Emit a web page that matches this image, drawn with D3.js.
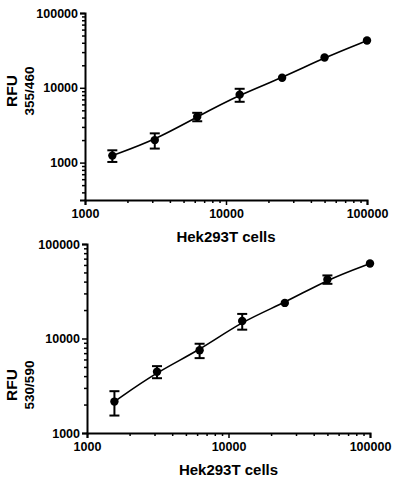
<!DOCTYPE html>
<html>
<head>
<meta charset="utf-8">
<script src="https://cdn.jsdelivr.net/npm/d3@7"></script>
<style>
  body { margin: 0; background: #fff; }
  svg text { font-family: "Liberation Sans", Arial, sans-serif; font-weight: bold; fill: #000; }
</style>
</head>
<body>
<svg id="chart" width="397" height="502"></svg>
<script>
// -------- data --------
var cells = [1562.5, 3125, 6250, 12500, 25000, 50000, 100000];

// top panel: RFU 355/460
var rfu355 = [1240, 2000, 4100, 8100, 13600, 25400, 42800];
var sd355 = [220, 460, 530, 1600, 0, 0, 0];

// bottom panel: RFU 530/590
var rfu530 = [2150, 4450, 7500, 15300, 23800, 42200, 62200];
var sd530 = [620, 650, 1300, 2900, 0, 4300, 0];

var xTicks = [1000, 10000, 100000];
var yTicks = [1000, 10000, 100000];

var svg = d3.select('#chart');

// minor ticks for a log axis between lo and hi
function minorTicks(lo, hi) {
  var out = [];
  for (var dec = 100; dec < hi; dec *= 10) {
    for (var k = 2; k < 10; k++) {
      var v = dec * k;
      if (v > lo && v < hi) out.push(v);
    }
  }
  return out;
}

//-------- draw one panel --------
function drawPanel(p) {
  var x = d3.scaleLog().domain([1000, 100000]).range([p.left, p.right]);
  var y = d3.scaleLog().domain(p.yDomain).range([p.bottom, p.top]);
  var g = svg.append('g');

  // x axis
  g.append('g').attr('transform', 'translate(0,' + p.bottom + ')')
    .call(d3.axisBottom(x).tickValues(xTicks).tickFormat(d3.format('d')).tickSize(5).tickPadding(4));
  g.append('g').attr('transform', 'translate(0,' + p.bottom + ')')
    .call(d3.axisBottom(x).tickValues(minorTicks(1000, 100000)).tickFormat('').tickSize(3))
    .select('.domain').remove();

  // y axis
  g.append('g').attr('transform', 'translate(' + p.left + ',0)')
    .call(d3.axisLeft(y).tickValues(yTicks.filter(function(d) { return d >= p.yDomain[0]; }))
      .tickFormat(d3.format('d')).tickSize(5).tickPadding(2));
  g.append('g').attr('transform', 'translate(' + p.left + ',0)')
    .call(d3.axisLeft(y).tickValues(minorTicks(p.yDomain[0], p.yDomain[1])).tickFormat('').tickSize(3))
    .select('.domain').remove();

  g.selectAll('.domain').attr('stroke', '#000').attr('stroke-width', 2);
  g.selectAll('.tick line').attr('stroke', '#000').attr('stroke-width', 1.5);
  g.selectAll('.tick text').style('font-size', '12.5px');

  // axis titles
  g.append('text').attr('x', (p.left + p.right) / 2).attr('y', p.bottom + 42)
    .attr('text-anchor', 'middle').style('font-size', '15px').text('Hek293T cells');
  g.append('text').attr('transform', 'translate(17,' + p.labelY + ') rotate(-90)')
    .attr('text-anchor', 'middle').style('font-size', '15.5px').text('RFU');
  g.append('text').attr('transform', 'translate(34,' + p.labelY + ') rotate(-90)')
    .attr('text-anchor', 'middle').style('font-size', '13.5px').text(p.subLabel);

  var pts = cells.map(function(c, i) { return { x: c, y: p.values[i], sd: p.sd[i] }; });

  // fitted curve (smoothed through the means)
  var line = d3.line().x(function(d) { return x(d.x); }).y(function(d) { return y(d.y); })
    .curve(d3.curveBasis);
  g.append('path').datum(pts).attr('d', line).attr('fill', 'none')
    .attr('stroke', '#000').attr('stroke-width', 1.6);

  // error bars
  var eb = g.selectAll('.err').data(pts.filter(function(d) { return d.sd > 0; })).enter()
    .append('g').attr('class', 'err').attr('stroke', '#000').attr('stroke-width', 2);
  eb.append('line').attr('x1', function(d) { return x(d.x); }).attr('x2', function(d) { return x(d.x); })
    .attr('y1', function(d) { return y(d.y + d.sd); }).attr('y2', function(d) { return y(d.y - d.sd); });
  eb.append('line').attr('x1', function(d) { return x(d.x) - 5; }).attr('x2', function(d) { return x(d.x) + 5; })
    .attr('y1', function(d) { return y(d.y + d.sd); }).attr('y2', function(d) { return y(d.y + d.sd); });
  eb.append('line').attr('x1', function(d) { return x(d.x) - 5; }).attr('x2', function(d) { return x(d.x) + 5; })
    .attr('y1', function(d) { return y(d.y - d.sd); }).attr('y2', function(d) { return y(d.y - d.sd); });

  // points
  g.selectAll('.pt').data(pts).enter().append('circle').attr('class', 'pt')
    .attr('cx', function(d) { return x(d.x); }).attr('cy', function(d) { return y(d.y); })
    .attr('r', 4.2).attr('fill', '#000');
}

drawPanel({ left: 85, right: 367, top: 13, bottom: 200, yDomain: [Math.pow(10, 2.5), 100000],
  values: rfu355, sd: sd355, labelY: 91, subLabel: '355/460' });
drawPanel({ left: 87, right: 370, top: 244, bottom: 433, yDomain: [1000, 100000],
  values: rfu530, sd: sd530, labelY: 385, subLabel: '530/590' });
</script>
</body>
</html>
